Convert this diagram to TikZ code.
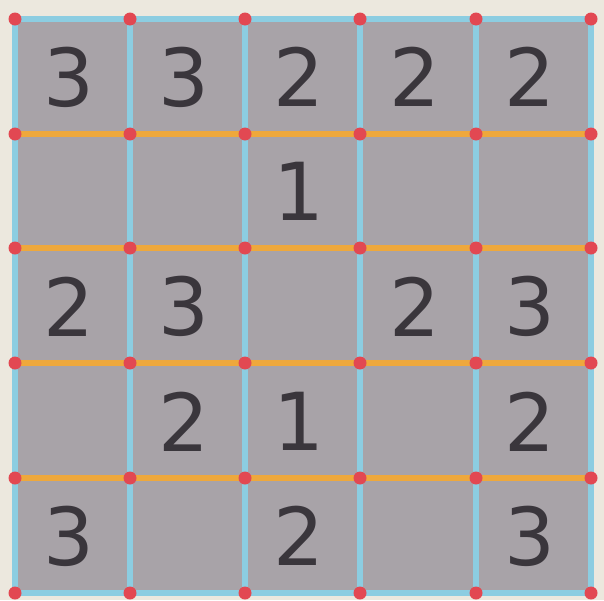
\documentclass[tikz,border=0pt]{standalone}
\usepackage{fontspec}
\newfontfamily\digitfont{DejaVu Sans}
\definecolor{paper}{RGB}{236,232,222}
\definecolor{cellgray}{RGB}{168,163,168}
\definecolor{gridblue}{RGB}{140,205,225}
\definecolor{gridorange}{RGB}{238,168,60}
\definecolor{dotred}{RGB}{226,72,82}
\definecolor{digit}{RGB}{58,54,60}
\tikzset{
  blueline/.style={draw=gridblue, line width=5.5pt},
  orangeline/.style={draw=gridorange, line width=5.5pt},
  dot/.style={circle, fill=dotred, inner sep=0pt, minimum size=13pt},
  digitnode/.style={text=digit, font=\digitfont\fontsize{80}{80}\selectfont, inner sep=0pt, anchor=center}
}
\begin{document}
\begin{tikzpicture}[x=1pt,y=-1pt]
\fill[paper] (0,0) rectangle (604,600);
\useasboundingbox (0,0) rectangle (604,600);
\fill[cellgray] (15,19) rectangle (591,593);
% coordinates
\foreach \i/\x in {0/15,1/130,2/245,3/360,4/476,5/591}{
  \foreach \j/\y in {0/19,1/134,2/248,3/363,4/478,5/593}{
    \coordinate (p\i\j) at (\x,\y);
  }
}
% vertical lines (blue)
\foreach \i in {0,...,5}{
  \draw[blueline] (p\i0) -- (p\i5);
}
% outer horizontal borders (blue)
\draw[blueline] (p00) -- (p50);
\draw[blueline] (p05) -- (p55);
% inner horizontal lines (orange)
\foreach \j in {1,...,4}{
  \draw[orangeline] (p0\j) -- (p5\j);
}
% dots
\foreach \i in {0,...,5}{
  \foreach \j in {0,...,5}{
    \node[dot] (d\i\j) at (p\i\j) {};
  }
}
% digits
\foreach \c/\r/\v in {0/0/3,1/0/3,2/0/2,3/0/2,4/0/2,
                      2/1/1,
                      0/2/2,1/2/3,3/2/2,4/2/3,
                      1/3/2,2/3/1,4/3/2,
                      0/4/3,2/4/2,4/4/3}{
  \pgfmathsetmacro{\cx}{15+115.2*\c+54}
  \pgfmathsetmacro{\cy}{19+114.8*\r+58}
  \node[digitnode] (n\c\r) at (\cx,\cy) {\v};
}
\end{tikzpicture}
\end{document}
